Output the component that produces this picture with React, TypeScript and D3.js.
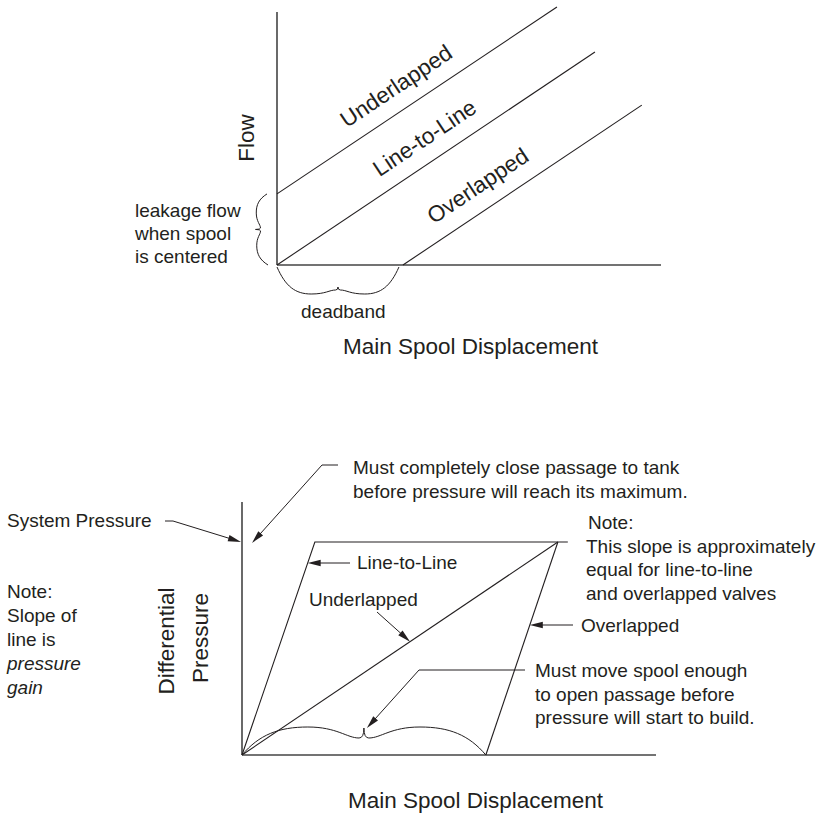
import React from "react";
import * as d3 from "d3";

// ---------- Top chart data (Flow vs spool displacement, units 0..100) ----------
const flowSeries = ["Underlapped", "Line-to-Line", "Overlapped"];
const flowStartX = [0, 0, 32.8];
const flowStartY = [28.1, 0, 0];
const flowEndX = [72.9, 82.8, 95];
const flowEndY = [102, 84.2, 63.2];
const flowLabelAt = [18.2, 26.7, 40.8];
const leakageFlow = 28.1;
const deadband = 32.8;
const leakageText = ["leakage flow", "when spool", "is centered"];

// ---------- Bottom chart data (Differential pressure, units 0..100) ----------
const pressureMax = 84.2;
const lineToLineSatX = 17.6;
const saturationX = 76.3;
const overlapDeadband = 58.9;
const plateauEndX = 78.7;
const leftNote = ["Note:", "Slope of", "line is", "pressure", "gain"];
const rightNote = ["Note:", "This slope is approximately", "equal for line-to-line", "and overlapped valves"];
const closeNote = ["Must completely close passage to tank", "before pressure will reach its maximum."];
const moveNote = ["Must move spool enough", "to open passage before", "pressure will start to build."];

const FONT = "'Liberation Sans', Arial, Helvetica, sans-serif";
const INK = "#231f20";

function bracePath(
  x1: number, y1: number, x2: number, y2: number,
  nx: number, ny: number, H: number, mid: number, tip: number, hump = 0.27
) {
  const L = Math.hypot(x2 - x1, y2 - y1);
  const dx = (x2 - x1) / L, dy = (y2 - y1) / L;
  const P = (u: number, v: number) => {
    const px = x1 + u * L * dx + v * nx;
    const py = y1 + u * L * dy + v * ny;
    return `${px.toFixed(2)},${py.toFixed(2)}`;
  };
  return [
    `M${P(0, 0)}`,
    `C${P(0.07, 0.72 * H)} ${P(0.15, H)} ${P(hump, H)}`,
    `C${P(hump + 0.12, H)} ${P(0.43, mid)} ${P(0.48, mid)}`,
    `Q${P(0.5, mid)} ${P(0.5, tip)}`,
    `Q${P(0.5, mid)} ${P(0.52, mid)}`,
    `C${P(0.57, mid)} ${P(1 - hump - 0.12, H)} ${P(1 - hump, H)}`,
    `C${P(0.85, H)} ${P(0.93, 0.72 * H)} ${P(1, 0)}`,
  ].join(" ");
}

function Arrow({ pts }: { pts: [number, number][] }) {
  const n = pts.length;
  const [tx, ty] = pts[n - 1];
  const [fx, fy] = pts[n - 2];
  const len = Math.hypot(tx - fx, ty - fy);
  const ux = (tx - fx) / len, uy = (ty - fy) / len;
  const hl = 13, hw = 3.2;
  const bx = tx - ux * hl, by = ty - uy * hl;
  const head = `${tx},${ty} ${bx - uy * hw},${by + ux * hw} ${bx + uy * hw},${by - ux * hw}`;
  const line = d3.line()(pts.slice(0, n - 1).concat([[bx + ux * 2, by + uy * 2]]) as [number, number][]);
  return (
    <g>
      <path d={line || ""} fill="none" stroke={INK} strokeWidth={1} />
      <polygon points={head} fill={INK} />
    </g>
  );
}

export default function App() {
  // top chart scales
  const xT = d3.scaleLinear().domain([0, 100]).range([277, 661]);
  const yT = d3.scaleLinear().domain([0, 100]).range([265, 12]);
  // bottom chart scales
  const xB = d3.scaleLinear().domain([0, 100]).range([242, 656]);
  const yB = d3.scaleLinear().domain([0, 100]).range([755, 502]);

  const line = d3.line<[number, number]>();

  const topLines = flowSeries.map((name, i) => {
    const p0: [number, number] = [xT(flowStartX[i]), yT(flowStartY[i])];
    const p1: [number, number] = [xT(flowEndX[i]), yT(flowEndY[i])];
    const slope = (flowEndY[i] - flowStartY[i]) / (flowEndX[i] - flowStartX[i]);
    const lx = flowLabelAt[i];
    const ly = flowStartY[i] + slope * (lx - flowStartX[i]);
    const ang = (Math.atan2(p1[1] - p0[1], p1[0] - p0[0]) * 180) / Math.PI;
    return { name, d: line([p0, p1]), lx: xT(lx), ly: yT(ly) - (i === 2 ? 20 : 19), ang };
  });

  // bottom chart shapes
  const ltl = line([[xB(0), yB(0)], [xB(lineToLineSatX), yB(pressureMax)], [xB(plateauEndX), yB(pressureMax)]]);
  const under = line([[xB(0), yB(0)], [xB(saturationX), yB(pressureMax)]]);
  const over = line([[xB(overlapDeadband), yB(0)], [xB(saturationX), yB(pressureMax)]]);

  // arrow targets computed from the data
  const pLTL = yB.invert(563);
  const ltlTip: [number, number] = [xB((lineToLineSatX * pLTL) / pressureMax), yB(pLTL)];
  const uX = 40.6;
  const underTip: [number, number] = [xB(uX), yB((uX * pressureMax) / saturationX)];
  const pOver = yB.invert(625);
  const overTip: [number, number] = [
    xB(overlapDeadband + ((saturationX - overlapDeadband) * pOver) / pressureMax),
    yB(pOver),
  ];
  const braceH = 28, braceMid = 17, braceTip = 27;
  const cuspX = xB(overlapDeadband / 2);
  const cuspY = yB(0) - braceTip;

  const textStyle = { fontFamily: FONT, fill: INK } as const;

  return (
    <svg width={819} height={814} style={{ position: "absolute", left: 0, top: 0, background: "#fff" }}>
      <rect width={819} height={814} fill="#fff" />
      {/* ================= TOP CHART ================= */}
      <line x1={xT(0)} y1={yT(0)} x2={xT(0)} y2={yT(100)} stroke="#444" strokeWidth={1.6} />
      <line x1={xT(0)} y1={yT(0)} x2={xT(100)} y2={yT(0)} stroke="#444" strokeWidth={1.6} />
      {topLines.map((l) => (
        <g key={l.name}>
          <path d={l.d || ""} stroke={INK} strokeWidth={1.1} fill="none" />
          <text
            x={l.lx}
            y={l.ly}
            transform={`rotate(${l.ang} ${l.lx} ${l.ly})`}
            fontSize={22.5}
            style={textStyle}
          >
            {l.name}
          </text>
        </g>
      ))}
      <text transform={`translate(253.5,138) rotate(-90)`} textAnchor="middle" fontSize={22.5} style={textStyle}>
        Flow
      </text>
      {/* leakage brace */}
      <path
        d={bracePath(xT(0) - 10, yT(leakageFlow), xT(0) - 9, yT(0), -1, 0, 11, 7, 12)}
        fill="none"
        stroke={INK}
        strokeWidth={1}
      />
      {leakageText.map((t, i) => (
        <text key={t} x={135} y={217 + i * 23} fontSize={19} style={textStyle}>
          {t}
        </text>
      ))}
      {/* deadband brace */}
      <path
        d={bracePath(xT(0), yT(0) + 2, xT(deadband) - 4, yT(0) + 2, 0, 1, 27, 23, 20, 0.28)}
        fill="none"
        stroke={INK}
        strokeWidth={1}
      />
      <text x={301} y={318} fontSize={19} style={textStyle}>
        deadband
      </text>
      <text x={343} y={354} fontSize={22.5} style={textStyle}>
        Main Spool Displacement
      </text>

      {/* ================= BOTTOM CHART ================= */}
      <line x1={xB(0)} y1={yB(0)} x2={xB(0)} y2={yB(100)} stroke="#444" strokeWidth={1.6} />
      <line x1={xB(0)} y1={yB(0)} x2={xB(100)} y2={yB(0)} stroke="#444" strokeWidth={1.6} />
      <path d={ltl || ""} stroke={INK} strokeWidth={1.1} fill="none" />
      <path d={under || ""} stroke={INK} strokeWidth={1.1} fill="none" />
      <path d={over || ""} stroke={INK} strokeWidth={1.1} fill="none" />
      <path
        d={bracePath(xB(0), yB(0), xB(overlapDeadband), yB(0), 0, -1, braceH, braceMid, braceTip)}
        fill="none"
        stroke={INK}
        strokeWidth={1}
      />

      {/* labels and leaders */}
      {closeNote.map((t, i) => (
        <text key={t} x={353} y={474 + i * 24} fontSize={19} style={textStyle}>
          {t}
        </text>
      ))}
      <Arrow pts={[[338, 465], [322, 465], [xB(0) + 10, yB(pressureMax) + 1]]} />

      <text x={7} y={527} fontSize={19} style={textStyle}>
        System Pressure
      </text>
      <Arrow pts={[[165, 521], [173, 521], [xB(0) - 1, yB(pressureMax)]]} />

      {rightNote.map((t, i) => (
        <text key={t} x={i === 0 ? 588 : 586} y={529 + i * 23.7} fontSize={19} style={textStyle}>
          {t}
        </text>
      ))}

      <text x={357} y={569} fontSize={19} style={textStyle}>
        Line-to-Line
      </text>
      <Arrow pts={[[350, ltlTip[1]], ltlTip]} />

      <text x={309} y={606} fontSize={19} style={textStyle}>
        Underlapped
      </text>
      <Arrow pts={[[377, 612], underTip]} />

      <text x={581} y={632} fontSize={19} style={textStyle}>
        Overlapped
      </text>
      <Arrow pts={[[573, overTip[1]], overTip]} />

      {moveNote.map((t, i) => (
        <text key={t} x={535} y={677 + i * 23.5} fontSize={19} style={textStyle}>
          {t}
        </text>
      ))}
      <Arrow pts={[[525, 670], [419, 670], [cuspX + 3, cuspY]]} />

      {leftNote.map((t, i) => (
        <text
          key={t}
          x={7}
          y={598 + i * 24}
          fontSize={19}
          fontStyle={i >= 3 ? "italic" : "normal"}
          style={textStyle}
        >
          {t}
        </text>
      ))}

      <text transform={`translate(174,641) rotate(-90)`} textAnchor="middle" fontSize={22.5} style={textStyle}>
        Differential
      </text>
      <text transform={`translate(208,638) rotate(-90)`} textAnchor="middle" fontSize={22.5} style={textStyle}>
        Pressure
      </text>

      <text x={348} y={808} fontSize={22.5} style={textStyle}>
        Main Spool Displacement
      </text>
    </svg>
  );
}
